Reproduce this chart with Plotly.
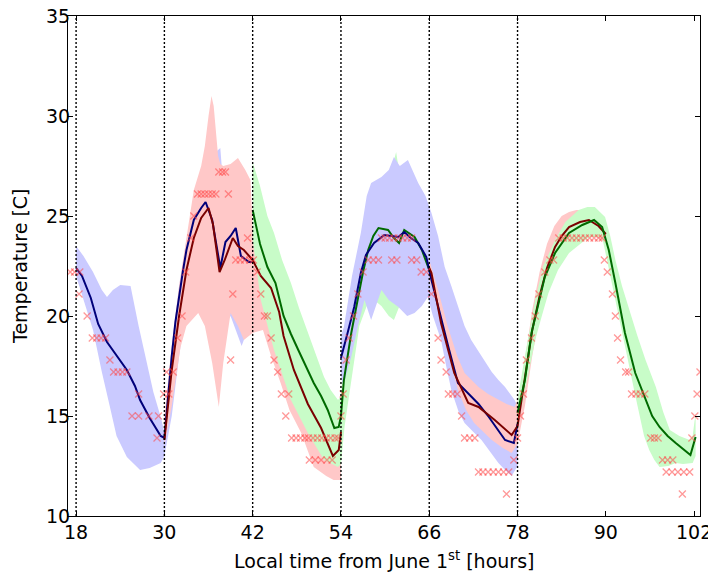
import plotly.graph_objects as go

# ---------------- data ----------------
x_ticks = [18, 30, 42, 54, 66, 78, 90, 102]
y_ticks = [10, 15, 20, 25, 30, 35]
day_marks = [18, 30, 42, 54, 66, 78]

# forecast mean lines
blue1_t = [18, 18.8, 20, 21, 22.2, 23, 24, 24.9, 26, 26.7, 28, 29.5, 30, 30.5, 31, 31.5, 32, 32.5, 33, 33.5, 34, 35, 35.6, 36.5, 37.2, 37.6, 38.3, 39, 39.7, 40.4, 41.5, 42]
blue1_v = [22.4, 22.0, 20.9, 19.6, 18.7, 18.3, 17.8, 17.3, 16.5, 15.8, 14.9, 14.0, 13.9, 16.0, 18.0, 19.7, 21.0, 22.2, 23.3, 24.1, 24.8, 25.4, 25.7, 24.8, 23.3, 22.4, 23.7, 24.0, 24.4, 23.0, 22.7, 22.7]

red1_t = [30, 30.5, 31, 32, 33, 34, 35, 36, 36.6, 37.5, 38.2, 39.3, 40, 40.8, 42, 43.1, 44.5, 45.6, 46.2, 47.6, 49.5, 51.3, 52.9, 53.7, 54]
red1_v = [13.8, 15.6, 17.3, 20.0, 22.3, 23.9, 24.9, 25.4, 24.6, 22.2, 22.8, 23.9, 23.5, 23.3, 22.8, 22.0, 21.4, 20.2, 19.0, 17.3, 15.6, 14.4, 13.0, 13.3, 14.2]

green1_t = [42, 42.5, 43, 44, 45.1, 46.2, 47.2, 48.2, 49.3, 50.3, 51.3, 52.2, 53.1, 53.7, 54, 54.4, 55.4, 56.3, 57, 57.7, 58.4, 59.1, 60.4, 61.2, 61.9, 62.6, 64, 65, 66]
green1_v = [25.3, 24.5, 23.6, 22.45, 21.65, 20.0, 19.1, 18.3, 17.4, 16.65, 16.0, 15.3, 14.4, 14.45, 15.0, 16.8, 19.15, 20.95, 22.2, 23.3, 24.0, 24.4, 24.3, 23.9, 23.65, 24.3, 23.95, 23.3, 22.3]

blue2_t = [54, 54.3, 54.9, 55.8, 56.7, 57.4, 58.5, 59.9, 61, 61.8, 62.6, 63.5, 64.5, 65.6, 66.3, 67.2, 68.6, 69.9, 71.7, 72.7, 74.1, 75.2, 76.3, 77.5, 78]
blue2_v = [17.9, 18.3, 19.15, 20.45, 22.15, 23.05, 23.65, 24.05, 24.0, 23.95, 24.2, 23.9, 23.65, 22.95, 21.8, 20.45, 18.45, 16.65, 15.95, 15.6, 14.95, 14.4, 13.8, 13.65, 14.6]

red2_t = [66, 66.3, 67.6, 69.4, 71.3, 72.7, 74.9, 77.2, 78, 78.5, 79, 80, 81, 82, 83.1, 84, 85, 86.5, 87.7, 89, 90]
red2_v = [22.4, 22.15, 19.65, 17.15, 15.65, 15.45, 14.8, 14.05, 14.5, 15.6, 16.9, 19.3, 21.0, 22.4, 23.45, 24.0, 24.45, 24.7, 24.8, 24.5, 24.1]

green2_t = [78, 79, 79.9, 80.9, 81.7, 83.1, 85, 86.8, 88.4, 89.5, 90.4, 91.3, 92.6, 94, 95.4, 96.3, 97.3, 98.4, 99.5, 100.5, 101.5, 102.2]
green2_v = [15.15, 16.8, 19.15, 20.8, 21.95, 23.15, 24.15, 24.55, 24.8, 24.45, 23.3, 21.65, 19.15, 17.15, 15.8, 15.0, 14.45, 14.0, 13.65, 13.35, 13.05, 13.95]

# uncertainty bands (upper / lower edges)
blue1_up_t = [18, 19, 20.3, 21.5, 22.2, 23, 24, 25.4, 26.5, 27.5, 28.5, 29.5, 30, 31, 32, 33, 34, 35, 36, 36.5, 37, 37.6, 38, 39, 40, 41, 42]
blue1_up_v = [23.5, 23.0, 22.2, 21.3, 20.95, 21.3, 21.55, 21.5, 19.5, 17.8, 16.2, 14.95, 14.2, 18.5, 21.5, 23.8, 25.5, 26.5, 28.0, 28.8, 28.2, 28.4, 26.5, 26.5, 26.0, 25.0, 24.0]
blue1_lo_t = [18, 19, 20.3, 21.5, 22.6, 23.5, 24.9, 26.7, 28, 29.5, 30, 31, 32, 33, 34, 35, 36, 37, 38, 39, 40, 40.5, 41, 42]
blue1_lo_v = [22.0, 20.8, 19.3, 17.2, 15.45, 14.0, 12.95, 12.3, 12.4, 12.65, 13.0, 15.0, 18.0, 20.5, 22.0, 22.5, 21.5, 20.0, 19.5, 20.0, 19.0, 18.5, 19.0, 19.5]

red1_up_t = [30, 31, 32, 33, 34, 35, 35.5, 36, 36.4, 36.7, 37, 37.3, 37.6, 38, 39, 40, 41, 41.7, 42, 43, 44, 45, 46, 47, 48, 49, 50, 51, 52, 53, 54]
red1_up_v = [15.0, 18.5, 21.5, 24.0, 26.3, 27.5, 28.5, 30.0, 31.0, 30.5, 29.0, 28.0, 27.6, 27.5, 27.6, 27.9, 27.3, 26.8, 24.5, 23.5, 22.5, 21.5, 20.0, 18.5, 17.0, 16.0, 15.2, 14.8, 14.3, 14.0, 14.5]
red1_lo_t = [30, 31, 32.2, 33, 34.6, 35.5, 36.5, 37.4, 38, 39, 40, 40.8, 42, 43.4, 44.5, 45.8, 47, 48.6, 50.3, 52, 53, 54]
red1_lo_v = [13.5, 15.5, 18.45, 19.5, 20.15, 19.5, 17.65, 15.45, 17.65, 20.15, 19.5, 18.8, 19.15, 19.3, 18.0, 16.65, 15.3, 14.15, 12.45, 12.0, 11.8, 11.8]

green1_up_t = [42, 43, 44, 44.9, 46, 47.2, 48.3, 49.5, 50.6, 51.7, 52.6, 53.6, 54, 54.5, 55.5, 56.5, 57.5, 58.5, 59.5, 60.5, 61.5, 62, 63, 64, 65, 66]
green1_up_v = [27.7, 26.5, 25.0, 24.15, 22.8, 21.65, 20.4, 19.15, 18.0, 16.95, 16.3, 15.8, 16.0, 18.5, 20.5, 22.5, 24.5, 25.5, 26.0, 26.8, 28.2, 27.0, 26.0, 25.5, 24.5, 24.0]
green1_lo_t = [42, 43.1, 44.9, 47.2, 49.5, 51.7, 53.6, 54, 54.5, 55.5, 56.5, 57.5, 58.5, 59.5, 60.5, 61.2, 62.5, 63.5, 64.5, 66]
green1_lo_v = [23.8, 20.8, 18.3, 15.8, 14.15, 12.8, 12.45, 12.6, 14.5, 17.0, 19.5, 20.5, 20.8, 20.5, 20.0, 19.8, 21.0, 21.5, 21.5, 21.8]

blue2_up_t = [54, 54.4, 55.5, 56.7, 57.5, 58.1, 59.5, 60.5, 61.2, 62, 63.1, 64.5, 65.5, 66.3, 67.2, 68.1, 69, 69.9, 70.8, 71.7, 72.6, 73.5, 74.5, 75.4, 76.3, 77.6, 78]
blue2_up_v = [19.0, 19.45, 22.0, 24.15, 26.0, 26.65, 26.95, 27.3, 27.95, 27.5, 27.8, 26.65, 26.0, 25.15, 24.0, 22.45, 21.5, 20.45, 19.5, 18.8, 18.3, 17.8, 17.2, 16.8, 16.45, 15.8, 15.5]
blue2_lo_t = [54, 54.3, 55.4, 56.3, 57.2, 58.1, 59.5, 60.5, 61.8, 63, 64, 65, 65.8, 66.5, 67.6, 68.3, 69, 70, 70.8, 72, 73.1, 74.3, 75.4, 76.3, 77.2, 78]
blue2_lo_v = [17.0, 16.5, 17.95, 19.5, 20.8, 19.8, 21.3, 20.8, 20.45, 20.0, 20.15, 20.5, 20.95, 20.0, 18.8, 17.5, 16.3, 15.2, 14.65, 14.2, 13.8, 13.2, 12.65, 12.3, 12.0, 12.5]

red2_up_t = [66, 67.2, 68.5, 69.8, 70.8, 72, 72.7, 74, 75.4, 76.5, 77.6, 78, 79, 80, 81, 82, 83, 84, 85, 86, 87, 88, 89, 90]
red2_up_v = [22.8, 21.3, 19.5, 18.0, 17.15, 16.7, 16.45, 16.1, 15.8, 15.6, 15.45, 15.8, 17.8, 20.3, 22.2, 23.6, 24.5, 25.0, 25.2, 25.3, 25.3, 25.1, 24.9, 24.6]
red2_lo_t = [66, 67.6, 69, 69.9, 71, 72.1, 73.3, 74.5, 76, 77.2, 78, 79, 80, 81, 82, 83, 84, 85, 86, 87, 88, 89, 90]
red2_lo_v = [21.8, 20.15, 17.5, 16.3, 15.3, 14.65, 14.2, 13.8, 13.4, 13.15, 13.6, 15.5, 18.0, 20.0, 21.5, 22.5, 23.2, 23.6, 23.9, 24.0, 24.0, 23.9, 23.6]

green2_up_t = [78, 79, 80.4, 81.5, 83.1, 84.5, 86.3, 87.5, 88.5, 89.9, 90.6, 91.3, 92.2, 93.2, 94.3, 95.4, 96.8, 97.8, 98.7, 100, 101.4, 101.8, 102.2]
green2_up_v = [15.8, 18.0, 20.8, 22.5, 23.8, 24.7, 25.3, 25.45, 25.45, 24.95, 24.0, 22.8, 21.5, 20.3, 19.0, 17.8, 16.45, 15.2, 14.3, 14.0, 13.8, 14.0, 15.15]
green2_lo_t = [78, 78.3, 79.3, 80.4, 81.3, 82.2, 83.5, 85, 86.5, 87.7, 89.5, 90.4, 91.1, 91.8, 92.5, 93.2, 93.9, 94.6, 95.2, 95.9, 96.6, 97.3, 98.5, 99.5, 100.5, 101.8, 102.2]
green2_lo_v = [14.5, 14.95, 16.8, 18.8, 20.0, 21.15, 22.3, 23.15, 23.6, 23.95, 23.95, 22.45, 21.2, 19.95, 18.7, 17.45, 16.2, 14.95, 14.0, 13.3, 12.8, 12.45, 12.5, 12.65, 12.6, 12.65, 13.0]

# observations
obs_t = [17.2, 17.8, 18.5, 18.4, 19.5, 20.2, 20.8, 21.4, 22.0, 22.6, 23.1, 23.7, 24.3, 24.9, 25.6, 26.5, 26.5, 27.9, 29.2, 29.0, 29.9, 30.3,
         30.6, 31.2, 31.8, 32.4, 32.9, 33.6, 34.0, 34.5, 35.0, 35.5, 36.0, 36.5, 37.0, 37.4, 37.9, 38.3, 38.7, 39.0, 39.3, 39.7, 40.3, 40.9, 41.3, 41.6, 42.1,
         42.6, 43.1, 43.6, 44.0, 44.5, 44.9, 45.4, 45.9, 46.5, 46.9, 47.3, 47.9, 48.5, 49.1, 49.6, 50.2, 50.8, 51.4, 52.0, 52.6, 53.2, 53.6, 49.7, 50.5, 51.3, 52.1, 52.8, 54.0,
         54.3, 54.7, 55.1, 55.7, 56.3, 57.0, 57.7, 58.4, 59.1, 59.5, 60.0, 60.6, 61.2, 61.8, 62.4, 63.0, 63.6, 60.9, 61.6, 63.6, 64.3, 64.9, 65.6, 66.3,
         67.2, 67.6, 68.3, 68.6, 69.2, 69.8, 70.4, 70.8, 71.5, 72.2, 72.7, 73.3, 74.0, 74.7, 75.4, 76.1, 76.8, 76.5, 77.5, 78.0,
         78.4, 78.8, 79.2, 79.9, 80.4, 80.9, 81.7, 82.4, 82.9, 83.6, 84.2, 84.8, 85.4, 86.0, 86.6, 87.2, 87.8, 88.4, 89.0, 89.5, 89.8, 90.2,
         90.9, 91.3, 91.6, 92.0, 92.7, 93.1, 93.5, 94.1, 94.7, 95.3, 96.1, 96.6, 97.1, 97.7, 98.4, 99.1, 98.2, 99.0, 99.8, 100.6, 101.4, 100.4, 101.7, 102.1, 102.4, 102.8]
obs_v = [22.2, 22.2, 22.2, 21.1, 20.0, 18.9, 18.9, 18.9, 18.9, 17.8, 17.2, 17.2, 17.2, 17.2, 15.0, 16.1, 15.0, 15.0, 15.0, 13.9, 16.1, 17.2,
         16.1, 17.2, 18.9, 20.0, 22.2, 23.9, 25.0, 26.1, 26.1, 26.1, 26.1, 26.1, 26.1, 27.2, 27.2, 27.2, 26.1, 17.8, 21.1, 22.8, 22.8, 22.8, 23.9, 22.8, 22.8,
         22.2, 21.1, 20.0, 20.0, 18.9, 17.8, 17.2, 16.1, 15.0, 16.1, 13.9, 13.9, 13.9, 13.9, 13.9, 13.9, 13.9, 13.9, 13.9, 13.9, 13.9, 13.9, 12.8, 12.8, 12.8, 12.8, 12.8, 15.0,
         16.1, 17.8, 18.9, 20.0, 21.1, 22.2, 22.8, 22.8, 22.8, 23.9, 23.9, 23.9, 23.9, 23.9, 23.9, 23.9, 23.9, 22.8, 22.8, 22.8, 22.8, 22.2, 22.2, 21.1,
         18.9, 17.8, 17.2, 16.1, 16.1, 16.1, 15.0, 13.9, 13.9, 13.9, 12.2, 12.2, 12.2, 12.2, 12.2, 12.2, 12.2, 11.1, 12.8, 13.9,
         15.0, 16.1, 17.8, 18.9, 20.0, 21.1, 22.2, 22.8, 22.8, 23.9, 23.9, 23.9, 23.9, 23.9, 23.9, 23.9, 23.9, 23.9, 23.9, 23.9, 22.8, 22.2,
         21.1, 20.0, 18.9, 17.8, 17.2, 17.2, 16.1, 16.1, 16.1, 16.1, 13.9, 13.9, 13.9, 12.8, 12.8, 12.8, 12.2, 12.2, 12.2, 12.2, 12.2, 11.1, 13.9, 15.0, 16.1, 17.2]

x_title = "Local time from June 1<sup>st</sup> [hours]"
y_title = "Temperature [C]"

# ---------------- styles ----------------
BAND = {"blue": "rgb(202,202,255)", "red": "rgb(255,200,200)", "green": "rgb(200,252,200)"}
LINE = {"blue": "#00007a", "red": "#7a0000", "green": "#006a00"}

fig = go.Figure()

def add_band(up_t, up_v, lo_t, lo_v, color):
    fig.add_trace(go.Scatter(x=up_t + lo_t[::-1], y=up_v + lo_v[::-1], mode="lines",
                             fill="toself", fillcolor=color, line=dict(width=0),
                             hoverinfo="skip", showlegend=False))

add_band(blue1_up_t, blue1_up_v, blue1_lo_t, blue1_lo_v, BAND["blue"])
add_band(red1_up_t, red1_up_v, red1_lo_t, red1_lo_v, BAND["red"])
add_band(green1_up_t, green1_up_v, green1_lo_t, green1_lo_v, BAND["green"])
add_band(blue2_up_t, blue2_up_v, blue2_lo_t, blue2_lo_v, BAND["blue"])
add_band(red2_up_t, red2_up_v, red2_lo_t, red2_lo_v, BAND["red"])
add_band(green2_up_t, green2_up_v, green2_lo_t, green2_lo_v, BAND["green"])

for t, v, c in [(blue1_t, blue1_v, "blue"), (red1_t, red1_v, "red"), (green1_t, green1_v, "green"),
                (blue2_t, blue2_v, "blue"), (red2_t, red2_v, "red"), (green2_t, green2_v, "green")]:
    fig.add_trace(go.Scatter(x=t, y=v, mode="lines", line=dict(color=LINE[c], width=2),
                             showlegend=False))

fig.add_trace(go.Scatter(x=obs_t, y=obs_v, mode="markers",
                         marker=dict(symbol="x-thin", size=7,
                                     line=dict(width=1.3, color="rgba(255,70,70,0.55)")),
                         showlegend=False))

for d in day_marks:
    fig.add_shape(type="line", x0=d, x1=d, y0=0, y1=1, xref="x", yref="paper",
                  line=dict(color="black", width=1.4, dash="2px,2px"), layer="above")

axis_common = dict(showline=True, linecolor="black", linewidth=1.2, mirror="ticks",
                   ticks="inside", ticklen=5, tickwidth=1, tickcolor="black",
                   showgrid=False, zeroline=False, automargin=False,
                   ticklabeloverflow="allow")

# the page body adds an 8px offset, so the figure is shifted by 8px in the window
fig.update_layout(
    width=708, height=566,
    margin=dict(l=60, r=16, t=8, b=58, autoexpand=False),
    plot_bgcolor="white", paper_bgcolor="white",
    font=dict(family="DejaVu Sans", size=19, color="black"),
    showlegend=False,
    xaxis=dict(range=[16.9, 102.8], tickvals=x_ticks, ticktext=[str(v) for v in x_ticks],
               ticklabelstandoff=-1, **axis_common),
    yaxis=dict(range=[10, 35], tickvals=y_ticks, ticktext=[str(v) for v in y_ticks],
               ticklabelstandoff=-7, **axis_common),
    annotations=[
        dict(text=x_title, xref="paper", yref="paper", x=0.5, y=-0.088,
             xanchor="center", yanchor="middle", showarrow=False,
             font=dict(family="DejaVu Sans", size=19, color="black")),
        dict(text=y_title, xref="paper", yref="paper", x=-0.076, y=0.5,
             xanchor="center", yanchor="middle", showarrow=False, textangle=-90,
             font=dict(family="DejaVu Sans", size=19, color="black")),
    ],
)

fig.write_html("out.html")
